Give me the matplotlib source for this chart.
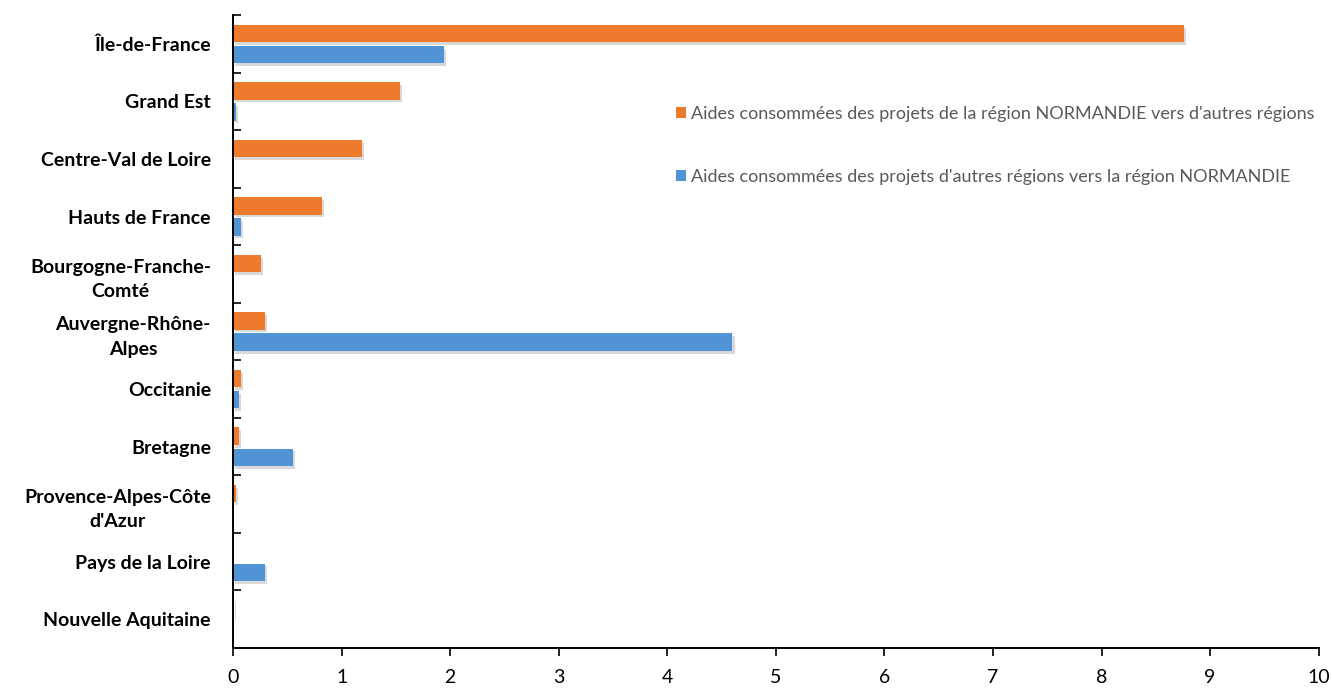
import numpy as np
import matplotlib.pyplot as plt
import matplotlib.patheffects as pe

# Regions, from top to bottom
regions = [
    "Île-de-France",
    "Grand Est",
    "Centre-Val de Loire",
    "Hauts de France",
    "Bourgogne-Franche-\nComté",
    "Auvergne-Rhône-\nAlpes",
    "Occitanie",
    "Bretagne",
    "Provence-Alpes-Côte\nd'Azur",
    "Pays de la Loire",
    "Nouvelle Aquitaine",
]
# Aid from NORMANDIE projects towards other regions
from_normandie = [8.76, 1.54, 1.19, 0.82, 0.26, 0.29, 0.07, 0.055, 0.03, 0.0, 0.005]
# Aid from other regions' projects towards NORMANDIE
to_normandie = [1.94, 0.03, 0.0, 0.07, 0.0, 4.6, 0.055, 0.55, 0.0, 0.29, 0.0]

label_from = "Aides consommées des projets de la région NORMANDIE vers d'autres régions"
label_to = "Aides consommées des projets d'autres régions vers la région NORMANDIE"

orange = "#EE7A2C"
blue = "#5094D6"

plt.rcParams["font.family"] = ["Lato", "DejaVu Sans"]

fig = plt.figure(figsize=(13.32, 6.89), dpi=100)
ax = fig.add_axes([0.175, 0.0595, 0.815, 0.9185])

y = np.arange(len(regions))

bars1 = ax.barh(y - 0.183, from_normandie, height=0.3, color=orange, label=label_from)
bars2 = ax.barh(y + 0.183, to_normandie, height=0.3, color=blue, label=label_to)

# legend first, so the handles don't pick up the shadow
leg = ax.legend(
    loc="center left",
    bbox_to_anchor=(0.3996, 0.794),
    frameon=False,
    fontsize=13,
    borderpad=0,
    handlelength=0.55,
    handleheight=0.55,
    handletextpad=0.3,
    labelspacing=2.6,
)
for t in leg.get_texts():
    t.set_color("#595959")

# soft drop shadow like the Excel original
shadow = [pe.SimplePatchShadow(offset=(1.5, -2), shadow_rgbFace="black", alpha=0.15), pe.Normal()]
for b in list(bars1) + list(bars2):
    b.set_path_effects(shadow)

ax.set_xlim(0, 10)
ax.set_ylim(len(regions) - 0.5, -0.5)
ax.set_xticks(range(0, 11))
ax.tick_params(axis="x", direction="out", length=6, width=1.2, labelsize=14, pad=9, colors="black")

ax.set_yticks(y)
ax.set_yticklabels(regions, fontweight="bold", fontsize=14, multialignment="center", linespacing=1.55)
ax.set_yticks(np.arange(-0.5, len(regions), 1), minor=True)
ax.tick_params(axis="y", which="major", length=0, pad=16)
ax.tick_params(axis="y", which="minor", direction="in", length=6, width=1.2)

for s in ["top", "right"]:
    ax.spines[s].set_visible(False)
for s in ["left", "bottom"]:
    ax.spines[s].set_linewidth(1.4)
    ax.spines[s].set_color("black")

fig.savefig("out.png", dpi=100)
